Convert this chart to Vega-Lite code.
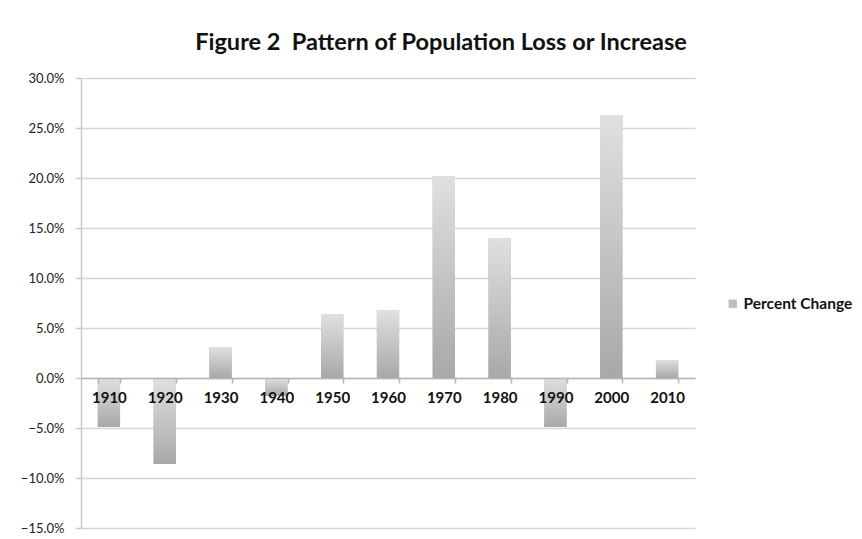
{
  "$schema": "https://vega.github.io/schema/vega-lite/v6.json",
  "width": 614,
  "height": 450,
  "autosize": {"type": "none"},
  "padding": {"left": 81, "top": 78, "right": 167, "bottom": 11},
  "background": "white",
  "title": {
    "text": "Figure 2\u00a0\u00a0Pattern of Population Loss or Increase",
    "font": "Lato",
    "fontSize": 23.5,
    "fontWeight": "bold",
    "color": "#111111",
    "anchor": "middle",
    "dx": 53,
    "offset": 18
  },
  "data": {
    "values": [
      {"year": "1910", "change": -0.049, "series": "Percent Change"},
      {"year": "1920", "change": -0.086, "series": "Percent Change"},
      {"year": "1930", "change": 0.031, "series": "Percent Change"},
      {"year": "1940", "change": -0.018, "series": "Percent Change"},
      {"year": "1950", "change": 0.064, "series": "Percent Change"},
      {"year": "1960", "change": 0.068, "series": "Percent Change"},
      {"year": "1970", "change": 0.202, "series": "Percent Change"},
      {"year": "1980", "change": 0.140, "series": "Percent Change"},
      {"year": "1990", "change": -0.049, "series": "Percent Change"},
      {"year": "2000", "change": 0.263, "series": "Percent Change"},
      {"year": "2010", "change": 0.018, "series": "Percent Change"}
    ]
  },
  "encoding": {
    "x": {
      "field": "year",
      "type": "ordinal",
      "scale": {"paddingInner": 0.6, "paddingOuter": 0.3},
      "axis": {
        "title": null,
        "offset": -150,
        "zindex": 1,
        "labelAngle": 0,
        "labelFont": "Lato",
        "labelFontSize": 15,
        "labelFontWeight": "bold",
        "labelColor": "#111111",
        "labelPadding": 7,
        "domainColor": "#b5b5b5",
        "domainWidth": 1.5,
        "tickColor": "#b5b5b5",
        "tickWidth": 1.5,
        "tickSize": 5,
        "tickBand": "extent",
        "grid": false
      }
    },
    "y": {
      "field": "change",
      "type": "quantitative",
      "scale": {"domain": [-0.15, 0.3], "nice": false, "zero": false},
      "axis": {
        "title": null,
        "format": ".1%",
        "values": [-0.15, -0.1, -0.05, 0, 0.05, 0.1, 0.15, 0.2, 0.25, 0.3],
        "labelFont": "Lato",
        "labelFontSize": 13,
        "labelColor": "#222222",
        "labelPadding": 11,
        "domainColor": "#c8c8c8",
        "domainWidth": 1.5,
        "tickColor": "#c8c8c8",
        "tickWidth": 1.5,
        "tickSize": 6,
        "grid": true,
        "gridColor": "#d6d6d6",
        "gridWidth": 1.5,
        "zindex": 0
      }
    }
  },
  "layer": [
    {
      "mark": {"type": "bar"},
      "encoding": {
        "color": {
          "field": "series",
          "type": "nominal",
          "scale": {"range": ["#bdbdbd"]},
          "legend": {
            "title": null,
            "orient": "none",
            "legendX": 644,
            "legendY": 218,
            "symbolType": "square",
            "symbolSize": 70,
            "labelFont": "Lato",
            "labelFontSize": 15.5,
            "labelFontWeight": "bold",
            "labelColor": "#111111",
            "labelOffset": 3
          }
        }
      }
    },
    {
      "mark": {
        "type": "bar",
        "fill": {
          "gradient": "linear",
          "x1": 0, "y1": 0, "x2": 0, "y2": 1,
          "stops": [
            {"offset": 0, "color": "#e0e0e0"},
            {"offset": 1, "color": "#a8a8a8"}
          ]
        }
      }
    }
  ],
  "config": {"view": {"stroke": null}}
}
